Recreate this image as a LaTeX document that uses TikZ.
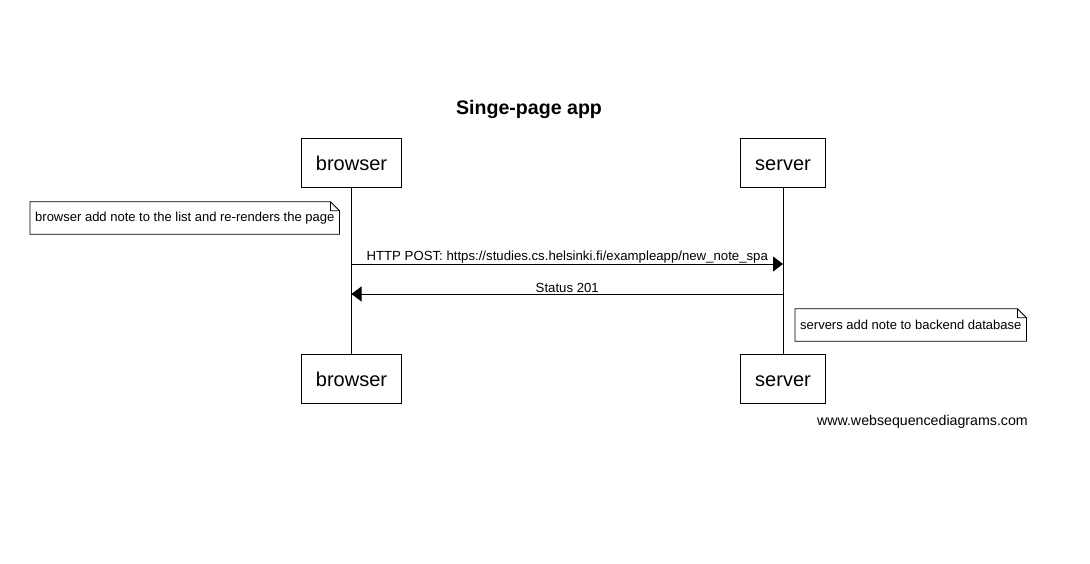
\documentclass[tikz,border=0pt]{standalone}
\usepackage{fontspec}
\setmainfont{Liberation Sans}
\usetikzlibrary{arrows.meta,positioning}

\tikzset{
  actor/.style={draw, line width=0.8pt, inner xsep=14.5pt, minimum height=49pt,
    text height=17pt, text depth=0.5pt, font=\fontsize{20}{24}\selectfont},
  note/.style={inner xsep=5pt, minimum height=32pt, font=\fontsize{13}{15}\selectfont},
  msg/.style={line width=0.8pt, -{Triangle[length=10pt,width=15pt]}},
  msgtext/.style={font=\fontsize{13.2}{15}\selectfont, inner sep=0.5pt},
  lifeline/.style={line width=0.8pt}
}

\begin{document}
\begin{tikzpicture}[x=1pt,y=-1pt]
    \useasboundingbox (0,0) rectangle (1090,564);
    \fill[white] (0,0) rectangle (1090,564);

    \node[font=\bfseries\fontsize{19.6}{23}\selectfont] (title) at (529,109) {Singe-page app};

    \node[actor] (browser) at (351.5,162.5) {browser};
    \node[actor] (server) at (783,162.5) {server};
    \node[actor] (browserEnd) at (351.5,378.5) {browser};
    \node[actor] (serverEnd) at (783,378.5) {server};

    \draw[lifeline] (browser) -- (browserEnd);
    \draw[lifeline] (server) -- (serverEnd);

    \node[note, anchor=west] (noteBrowser) at (30,218) {browser add note to the list and re-renders the page};
    \node[note, anchor=west] (noteServer) at (795,325) {servers add note to backend database};
    \foreach \n in {noteBrowser,noteServer}
      \draw[line width=0.8pt] (\n.north west) -- ([xshift=-9pt]\n.north east)
        -- ([yshift=-9pt]\n.north east) -- (\n.south east) -- (\n.south west) -- cycle
        ([xshift=-9pt]\n.north east) |- ([yshift=-9pt]\n.north east);

    \coordinate (post) at (0,264);
    \coordinate (status) at (0,294);
    \draw[msg] (browser |- post) -- node[msgtext, above] {HTTP POST: https://studies.cs.helsinki.fi/exampleapp/new\_note\_spa} (server |- post);
    \draw[msg] (server |- status) -- node[msgtext, above] {Status 201} (browser |- status);

    \node[font=\fontsize{14.2}{17}\selectfont, inner sep=0pt, anchor=east] (credit) at (1028,422) {www.websequencediagrams.com};
\end{tikzpicture}
\end{document}
